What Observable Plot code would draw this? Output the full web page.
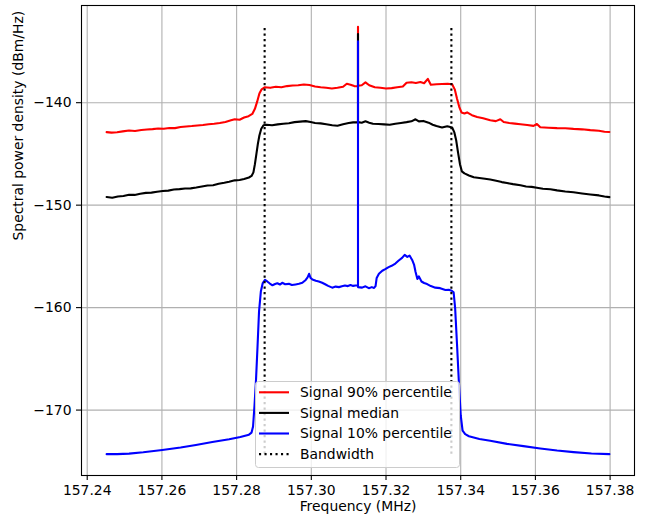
<!DOCTYPE html>
<html><head><meta charset="utf-8">
<script src="https://cdn.jsdelivr.net/npm/d3@7"></script>
<script src="https://cdn.jsdelivr.net/npm/@observablehq/plot@0.6"></script>
<style>
html,body{margin:0;padding:0;background:#fff;}
#chart{width:655px;height:523px;}
svg{display:block;}
</style></head><body><div id="chart"></div>
<script>
// ---- Data ----
const seriesNames = ["Signal 90% percentile", "Signal median", "Signal 10% percentile", "Bandwidth"];
const seriesColors = ["red", "black", "blue", "black"];
const xTicks = [157.24, 157.26, 157.28, 157.30, 157.32, 157.34, 157.36, 157.38];
const yTicks = [-170, -160, -150, -140];
const bandwidthEdges = [157.2875, 157.3375];

const freq90 = [157.2452,157.2465,157.2480,157.2495,157.2512,157.2528,157.2545,157.2560,157.2575,157.2590,157.2605,157.2620,157.2635,157.2650,157.2665,157.2680,157.2695,157.2710,157.2725,157.2740,157.2755,157.2770,157.2785,157.2795,157.2808,157.2820,157.2832,157.2842,157.2849,157.2855,157.2861,157.2867,157.2875,157.2890,157.2905,157.2920,157.2935,157.2950,157.2965,157.2980,157.2995,157.3010,157.3025,157.3040,157.3055,157.3070,157.3085,157.3095,157.3105,157.3115,157.3125,157.3125,157.3125,157.3135,157.3145,157.3155,157.3170,157.3185,157.3200,157.3215,157.3230,157.3245,157.3255,157.3268,157.3280,157.3292,157.3302,157.3312,157.3320,157.3335,157.3350,157.3365,157.3377,157.3384,157.3390,157.3396,157.3402,157.3410,157.3417,157.3430,157.3444,157.3460,157.3479,157.3494,157.3506,157.3515,157.3530,157.3545,157.3560,157.3578,157.3595,157.3604,157.3613,157.3635,157.3658,157.3680,157.3702,157.3725,157.3747,157.3770,157.3785,157.3798];
const psd90 = [-142.87,-142.92,-142.88,-142.80,-142.72,-142.76,-142.66,-142.62,-142.58,-142.52,-142.55,-142.47,-142.48,-142.38,-142.32,-142.28,-142.22,-142.18,-142.10,-142.06,-141.98,-141.88,-141.72,-141.62,-141.66,-141.45,-141.32,-141.10,-140.60,-139.90,-139.10,-138.70,-138.50,-138.55,-138.45,-138.50,-138.38,-138.32,-138.30,-138.22,-138.28,-138.42,-138.50,-138.55,-138.62,-138.55,-138.45,-138.15,-138.25,-138.38,-138.40,-132.60,-138.35,-138.30,-138.02,-138.30,-138.50,-138.55,-138.62,-138.58,-138.50,-138.42,-138.05,-138.00,-138.08,-137.98,-138.10,-137.68,-138.25,-138.20,-138.18,-138.15,-138.20,-138.70,-139.60,-140.40,-140.95,-141.05,-140.95,-141.22,-141.40,-141.52,-141.72,-141.80,-141.62,-141.88,-141.98,-142.04,-142.10,-142.18,-142.26,-142.08,-142.40,-142.44,-142.48,-142.50,-142.56,-142.60,-142.68,-142.74,-142.84,-142.86];

const freqMed = [157.2452,157.2467,157.2482,157.2497,157.2512,157.2527,157.2542,157.2557,157.2572,157.2587,157.2602,157.2617,157.2632,157.2647,157.2662,157.2677,157.2692,157.2707,157.2722,157.2737,157.2752,157.2767,157.2780,157.2795,157.2808,157.2820,157.2833,157.2840,157.2845,157.2849,157.2853,157.2857,157.2861,157.2866,157.2872,157.2880,157.2895,157.2910,157.2925,157.2940,157.2955,157.2970,157.2985,157.2998,157.3010,157.3025,157.3040,157.3056,157.3070,157.3085,157.3100,157.3112,157.3125,157.3125,157.3125,157.3135,157.3145,157.3155,157.3165,157.3180,157.3195,157.3210,157.3225,157.3240,157.3255,157.3268,157.3279,157.3288,157.3300,157.3314,157.3325,157.3335,157.3350,157.3364,157.3377,157.3383,157.3388,157.3393,157.3398,157.3403,157.3410,157.3422,157.3435,157.3450,157.3465,157.3479,157.3495,157.3510,157.3524,157.3540,157.3560,157.3575,157.3590,157.3604,157.3620,157.3640,157.3658,157.3680,157.3702,157.3725,157.3747,157.3770,157.3785,157.3798];
const psdMed = [-149.20,-149.28,-149.15,-149.10,-148.98,-149.00,-148.88,-148.80,-148.78,-148.70,-148.62,-148.58,-148.48,-148.44,-148.38,-148.36,-148.28,-148.18,-148.08,-148.06,-147.92,-147.82,-147.72,-147.58,-147.55,-147.45,-147.30,-147.15,-146.80,-146.00,-145.00,-144.00,-143.20,-142.55,-142.20,-142.15,-142.20,-142.12,-142.05,-142.00,-141.90,-141.85,-141.80,-141.88,-141.98,-142.02,-142.10,-142.20,-142.25,-142.10,-141.98,-141.92,-141.90,-133.30,-141.90,-141.95,-141.82,-141.95,-142.05,-142.08,-142.12,-142.15,-142.05,-141.98,-141.90,-141.82,-141.62,-141.82,-141.78,-141.95,-142.15,-142.28,-142.42,-142.30,-142.42,-142.90,-143.70,-144.90,-146.00,-146.70,-146.90,-147.10,-147.28,-147.35,-147.42,-147.50,-147.62,-147.75,-147.84,-147.95,-148.06,-148.18,-148.22,-148.30,-148.40,-148.45,-148.56,-148.66,-148.74,-148.86,-148.96,-149.05,-149.15,-149.22];

const freq10 = [157.2452,157.2480,157.2512,157.2550,157.2601,157.2650,157.2691,157.2735,157.2780,157.2810,157.2833,157.2840,157.2844,157.2848,157.2852,157.2856,157.2860,157.2865,157.2870,157.2876,157.2882,157.2889,157.2896,157.2903,157.2909,157.2916,157.2922,157.2930,157.2940,157.2948,157.2958,157.2967,157.2976,157.2985,157.2990,157.2994,157.2998,157.3003,157.3012,157.3020,157.3029,157.3037,157.3045,157.3056,157.3065,157.3074,157.3082,157.3090,157.3098,157.3105,157.3112,157.3118,157.3125,157.3125,157.3125,157.3136,157.3145,157.3154,157.3162,157.3168,157.3172,157.3175,157.3181,157.3190,157.3198,157.3207,157.3215,157.3225,157.3234,157.3243,157.3250,157.3257,157.3263,157.3270,157.3275,157.3279,157.3284,157.3288,157.3295,157.3302,157.3310,157.3320,157.3332,157.3345,157.3359,157.3368,157.3376,157.3381,157.3385,157.3390,157.3395,157.3400,157.3405,157.3412,157.3422,157.3450,157.3479,157.3524,157.3568,157.3613,157.3658,157.3702,157.3750,157.3798];
const psd10 = [-174.30,-174.30,-174.25,-174.12,-173.90,-173.65,-173.40,-173.12,-172.85,-172.62,-172.40,-172.20,-171.60,-169.50,-167.00,-163.80,-160.40,-158.40,-157.60,-157.30,-157.45,-157.65,-157.82,-157.70,-157.62,-157.75,-157.58,-157.72,-157.68,-157.80,-157.74,-157.68,-157.58,-157.30,-157.05,-156.70,-157.10,-157.25,-157.38,-157.45,-157.58,-157.72,-157.88,-158.05,-157.95,-158.00,-157.92,-157.85,-157.90,-157.80,-157.88,-157.85,-157.82,-134.00,-158.00,-158.05,-157.92,-158.10,-158.00,-158.08,-157.90,-157.10,-156.70,-156.40,-156.25,-156.05,-155.92,-155.70,-155.40,-155.15,-154.85,-155.05,-154.92,-155.35,-155.80,-156.50,-157.20,-156.95,-157.45,-157.60,-157.70,-157.90,-158.05,-158.10,-158.28,-158.25,-158.35,-158.50,-160.00,-163.50,-167.20,-170.50,-172.00,-172.35,-172.55,-172.82,-173.00,-173.30,-173.52,-173.75,-173.95,-174.10,-174.24,-174.30];

// ---- Build tables for the library ----
const toRows = (fs, vs) => fs.map((f, i) => ({f, v: vs[i]}));
const rows90 = toRows(freq90, psd90);
const rowsMed = toRows(freqMed, psdMed);
const rows10 = toRows(freq10, psd10);
const allV = psd90.concat(psdMed, psd10);
const allF = freq90.concat(freqMed, freq10);
const vMin = d3.min(allV), vMax = d3.max(allV);
const fMin = d3.min(allF), fMax = d3.max(allF);
const padF = (fMax - fMin) * 0.05, padV = (vMax - vMin) * 0.05;

const FS = 13.9;
const chart = Plot.plot({
  width: 655, height: 523,
  marginLeft: 81, marginRight: 21, marginTop: 5, marginBottom: 48,
  style: {fontFamily: "'DejaVu Sans', sans-serif", fontSize: FS + "px", color: "black", background: "white", overflow: "visible"},
  x: {domain: [fMin - padF, fMax + padF]},
  y: {domain: [vMin - padV, vMax + padV]},
  marks: [
    Plot.gridX(xTicks, {stroke: "#b0b0b0", strokeOpacity: 1, strokeWidth: 1.1}),
    Plot.gridY(yTicks, {stroke: "#b0b0b0", strokeOpacity: 1, strokeWidth: 1.1}),
    Plot.line(rows90, {x: "f", y: "v", stroke: seriesColors[0], strokeWidth: 2.1}),
    Plot.line(rowsMed, {x: "f", y: "v", stroke: seriesColors[1], strokeWidth: 2.1}),
    Plot.line(rows10, {x: "f", y: "v", stroke: seriesColors[2], strokeWidth: 2.1}),
    Plot.ruleX(bandwidthEdges, {y1: vMin, y2: vMax, stroke: seriesColors[3], strokeWidth: 2.1, strokeDasharray: "2.1,3.4"}),
    Plot.frame({stroke: "black", strokeWidth: 1.1}),
    Plot.axisX(xTicks, {tickSize: 5, tickPadding: 5, tickFormat: d3.format(".2f"), label: null, strokeWidth: 1.1}),
    Plot.axisY(yTicks, {tickSize: 5, tickPadding: 5, tickFormat: d3.format("d"), label: null, strokeWidth: 1.1}),
    Plot.text(["Frequency (MHz)"], {frameAnchor: "bottom", dy: 35, text: d => d, fontSize: FS}),
    Plot.text(["Spectral power density (dBm/Hz)"], {frameAnchor: "left", dx: -63, rotate: -90, text: d => d, fontSize: FS})
  ]
});
document.getElementById("chart").appendChild(chart);

// ---- Legend (matplotlib-style box inside the axes) ----
const svg = d3.select(chart);
const lg = svg.append("g").attr("class", "legend").attr("text-anchor", "start");
lg.append("rect").attr("x", 255.5).attr("y", 381.5).attr("width", 204).attr("height", 86).attr("rx", 3)
  .attr("fill", "white").attr("fill-opacity", 0.8).attr("stroke", "#cccccc").attr("stroke-width", 1);
seriesNames.forEach((name, i) => {
  const y = 392.3 + i * 20.6;
  lg.append("line").attr("x1", 259).attr("x2", 289).attr("y1", y).attr("y2", y)
    .attr("stroke", seriesColors[i]).attr("stroke-width", 2.1)
    .attr("stroke-dasharray", i === 3 ? "2.1,3.4" : null);
  lg.append("text").attr("x", 300).attr("y", y).attr("dy", "0.35em")
    .attr("text-anchor", "start")
    .attr("font-family", "'DejaVu Sans', sans-serif").attr("font-size", FS).attr("fill", "black")
    .text(name);
});
</script></body></html>
